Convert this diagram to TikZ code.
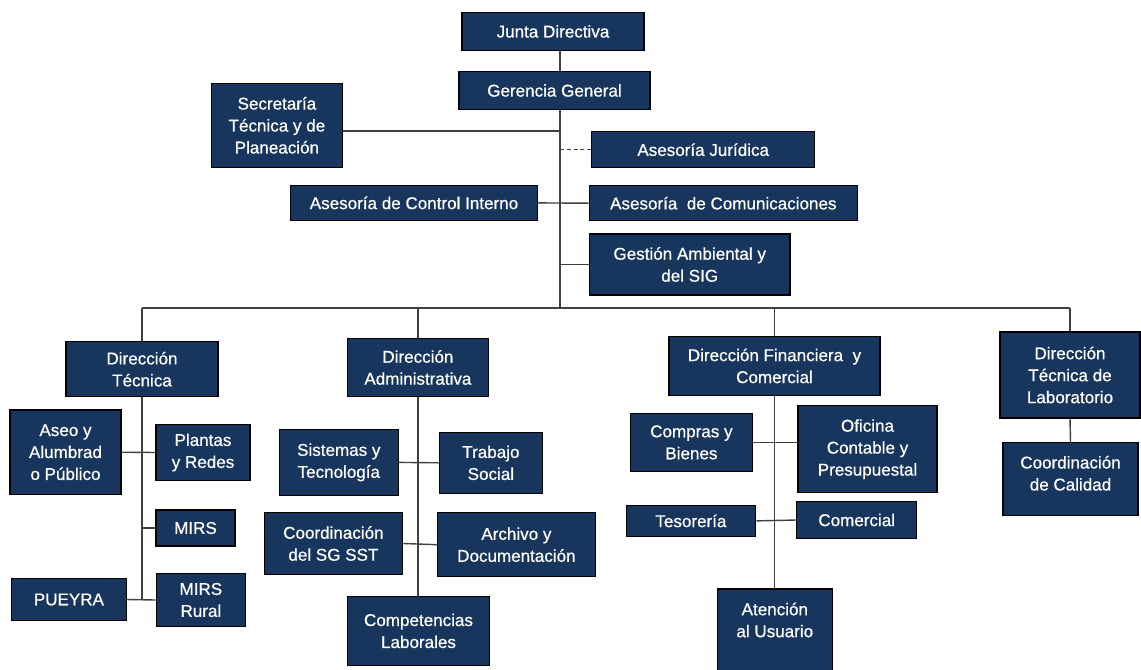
\documentclass[tikz,border=0pt]{standalone}
\usepackage{fontspec}
\setmainfont{Liberation Sans}
\newfontfamily\chartfont[FakeBold=0.6]{Liberation Sans}
\usepackage{xcolor}
\usepackage{tikz}
\usetikzlibrary{positioning, calc}
\definecolor{navy}{RGB}{24,54,93}

\begin{document}
\begin{tikzpicture}[x=0.02cm,y=-0.02cm,
    box/.style={draw=black,line width=0.7pt,fill=navy,text=white,align=center,inner sep=1pt,
      font=\chartfont\fontsize{9.7}{12.5}\selectfont},
    link/.style={draw=black!75,line width=0.8pt}]
  \useasboundingbox (0,0) rectangle (1141,669);

  % top of the chart
  \node[box,minimum width=3.64cm,minimum height=0.75cm] (junta) at (553,31.4) {Junta Directiva};
  \node[box,minimum width=3.82cm,minimum height=0.75cm] (gerencia) at (554.5,90.5) {Gerencia General};
  \node[box,minimum width=2.63cm,minimum height=1.68cm] (secretaria) at (276.9,125.3) {Secretaría\\Técnica y de\\Planeación};
  \node[box,minimum width=4.46cm,minimum height=0.72cm] (juridica) at (703.2,149.7) {Asesoría Jurídica};
  \node[box,minimum width=4.94cm,minimum height=0.71cm] (control) at (414,202.9) {Asesoría de Control Interno};
  \node[box,minimum width=5.36cm,minimum height=0.70cm] (comunic) at (723.3,203.2) {Asesoría\ \ de Comunicaciones};
  \node[box,minimum width=4.01cm,minimum height=1.22cm] (gestion) at (689.7,264.5) {Gestión Ambiental y\\del SIG};

  \coordinate (spine) at (560,0);
  \coordinate (bus) at (0,308);

  \draw[link] (junta.south -| spine) -- (gerencia.north -| spine);
  \draw[link] (gerencia.south -| spine) -- (spine |- bus);
  \draw[link] ([yshift=-0.11cm]secretaria.east) coordinate (sec) -- (sec -| spine);
  \draw[link,dash pattern=on 2.4pt off 1.4pt] (juridica.west) -- (juridica.west -| spine);
  \draw[link] (control.east) -- (comunic.west);
  \draw[link] (gestion.west) -- (gestion.west -| spine);

  % direcciones
  \node[box,minimum width=3.04cm,minimum height=1.10cm] (dtec) at (142,369.2) {Dirección\\Técnica};
  \node[box,minimum width=2.81cm,minimum height=1.16cm] (dadm) at (417.9,367.5) {Dirección\\Administrativa};
  \node[box,minimum width=4.22cm,minimum height=1.17cm] (dfin) at (774.5,365.9) {Dirección Financiera\ \ y\\Comercial};
  \node[box,minimum width=2.80cm,minimum height=1.72cm] (dlab) at (1070,375) {Dirección\\Técnica de\\Laboratorio};

  \draw[link] (dtec.north |- bus) -- (dlab.north |- bus);
  \draw[link] (dtec.north |- bus) -- (dtec.north);
  \draw[link] (dadm.north |- bus) -- (dadm.north);
  \draw[link] (dfin.north |- bus) -- (dfin.north);
  \draw[link] (dlab.north |- bus) -- (dlab.north);

  % direccion tecnica
  \node[box,minimum width=2.22cm,minimum height=1.69cm] (aseo) at (65.5,452.2) {Aseo y\\Alumbrad\\o Público};
  \node[box,minimum width=1.88cm,minimum height=1.13cm] (plantas) at (203,452.5) {Plantas\\y Redes};
  \node[box,minimum width=1.58cm,minimum height=0.72cm] (mirs) at (195.5,528) {MIRS};
  \node[box,minimum width=2.29cm,minimum height=0.85cm] (pueyra) at (68.9,599.5) {PUEYRA};
  \node[box,minimum width=1.79cm,minimum height=1.07cm] (mirsr) at (200.9,600) {MIRS\\Rural};

  \draw[link] (dtec.south) -- (dtec.south |- mirsr.west);
  \draw[link] (aseo.east) -- (plantas.west);
  \draw[link] (mirs.west) -- (mirs.west -| dtec.south);
  \draw[link] (pueyra.east) -- (mirsr.west);

  % direccion administrativa
  \node[box,minimum width=2.38cm,minimum height=1.33cm] (sistemas) at (338.8,462.4) {Sistemas y\\Tecnología};
  \node[box,minimum width=2.07cm,minimum height=1.22cm] (trabajo) at (490.9,462.8) {Trabajo\\Social};
  \node[box,minimum width=2.77cm,minimum height=1.23cm] (sgsst) at (333.4,543.5) {Coordinación\\del SG SST};
  \node[box,minimum width=3.15cm,minimum height=1.28cm] (archivo) at (516.4,544.7) {Archivo y\\Documentación};
  \node[box,minimum width=2.83cm,minimum height=1.37cm] (competencias) at (418.5,630.9) {Competencias\\Laborales};

  \draw[link] (dadm.south) -- (dadm.south |- competencias.north);
  \draw[link] (sistemas.east) -- (trabajo.west);
  \draw[link] (sgsst.east) -- (archivo.west);

  % direccion financiera
  \node[box,minimum width=2.43cm,minimum height=1.17cm] (compras) at (691.4,442.4) {Compras y\\Bienes};
  \node[box,minimum width=2.78cm,minimum height=1.74cm] (oficina) at (867.5,449.2) {Oficina\\Contable y\\Presupuestal};
  \node[box,minimum width=2.59cm,minimum height=0.63cm] (tesoreria) at (690.9,520.9) {Tesorería};
  \node[box,minimum width=2.40cm,minimum height=0.73cm] (comercial) at (856.7,520) {Comercial};
  \node[box,anchor=north,minimum width=2.30cm,minimum height=1.68cm] (atencion) at (774.8,588.3) {Atención\\al Usuario\\\mbox{}};

  \draw[link] (dfin.south) -- (dfin.south |- atencion.north);
  \draw[link] (compras.east) -- (compras.east -| oficina.west);
  \draw[link] (tesoreria.east) -- (comercial.west);

  % laboratorio
  \node[box,minimum width=2.70cm,minimum height=1.45cm] (calidad) at (1070.5,478.9) {Coordinación\\de Calidad\\[-6pt]\mbox{}};
  \draw[link] (dlab.south) -- (calidad.north);
\end{tikzpicture}
\end{document}
